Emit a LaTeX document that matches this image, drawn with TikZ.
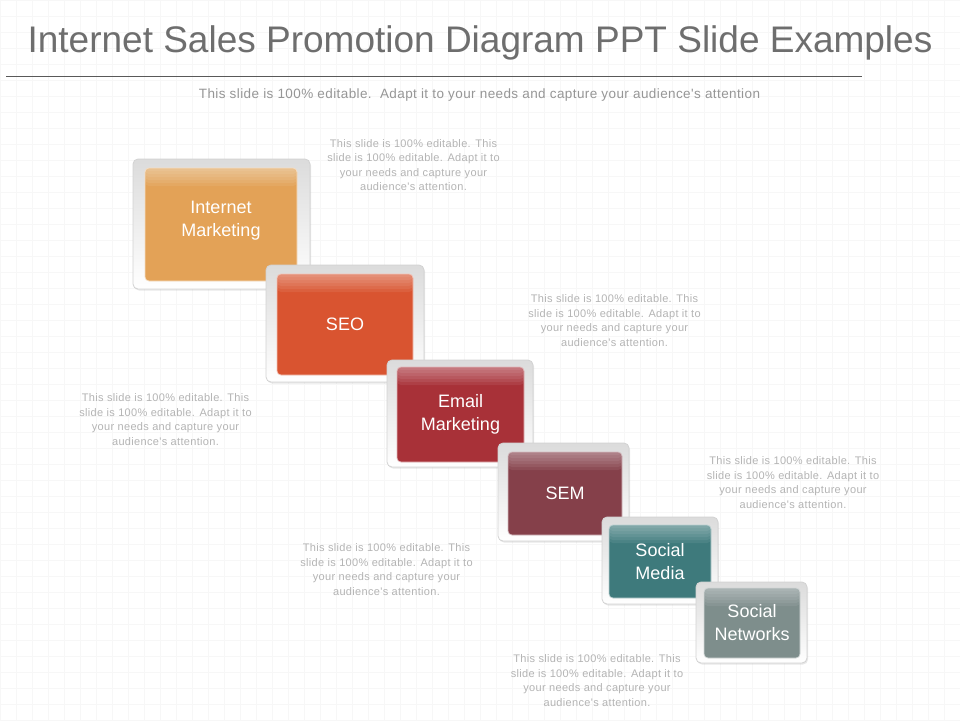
\documentclass[tikz,border=0pt]{standalone}
\usepackage{fontspec}
\setmainfont{Liberation Sans}
\newfontfamily\notefont[LetterSpace=3]{Liberation Sans}
\usetikzlibrary{shadows}

\definecolor{imOrange}{RGB}{227,162,87}
\definecolor{seoRed}{RGB}{217,84,48}
\definecolor{emailRed}{RGB}{168,49,56}
\definecolor{semWine}{RGB}{133,64,74}
\definecolor{smTeal}{RGB}{62,122,124}
\definecolor{snGray}{RGB}{126,142,140}
\definecolor{titleGray}{RGB}{110,110,110}
\definecolor{subGray}{RGB}{150,150,150}
\definecolor{noteGray}{RGB}{180,180,180}

\begin{document}
\begin{tikzpicture}[x=1pt, y=-1pt,
    frame/.style={draw=gray!35, line width=0.8pt, rounded corners=5pt, top color=gray!28, bottom color=white, inner sep=0pt,
        drop shadow={opacity=0.18, shadow xshift=1pt, shadow yshift=-1.5pt}},
    tile/.style={draw=white!65!#1, line width=0.7pt, fill=#1, rounded corners=4pt, inner sep=0pt, text=white,
        font=\fontsize{18}{23}\selectfont, align=center,
        path picture={\foreach \g in {3,6,...,18}
            \fill[white, opacity=0.07] (path picture bounding box.north west) rectangle ([yshift=-\g pt]path picture bounding box.north east);}},
    note/.style={text=noteGray, font=\notefont\fontsize{11}{14.5}\selectfont, align=center}]

        \useasboundingbox (0,0) rectangle (960,720);
        \fill[white] (0,0) rectangle (960,720);
        \draw[gray!6, step=16pt, line width=0.6pt] (0,0) grid (960,720);

        %%%%%%%%%%%%%%%%%%%%%%%%%%%%%%
        \node[font=\fontsize{37}{40}\selectfont, text=titleGray, anchor=base] (title) at (480,52)
        {Internet Sales Promotion Diagram PPT Slide Examples};
        \coordinate (ruleL) at (6,76);
        \coordinate (ruleR) at (862,76);
        \draw[black!65, line width=0.8pt] (ruleL) -- (ruleR);
        \node[font=\notefont\fontsize{13.5}{15}\selectfont, text=subGray, anchor=base] (subtitle) at (479.5,98)
        {This slide is 100\% editable.\ \ Adapt it to your needs and capture your audience's attention};

        %%%%%%%%%%%%%%%%%%%%%%%%%%%%%%
        \node[frame, minimum width=177pt, minimum height=130pt] (imFrame) at (221.5,224) {};
        \node[tile=imOrange, minimum width=152pt, minimum height=113pt, text depth=12pt] (im) at (221,224.5) {Internet\\Marketing};

        \node[frame, minimum width=158pt, minimum height=117pt] (seoFrame) at (345,323.5) {};
        \node[tile=seoRed, minimum width=136pt, minimum height=101pt] (seo) at (345,324.5) {SEO};

        \node[frame, minimum width=146pt, minimum height=107pt] (emailFrame) at (460,413.5) {};
        \node[tile=emailRed, minimum width=127pt, minimum height=95pt] (email) at (460.5,414.5) {Email\\Marketing};

        \node[frame, minimum width=131pt, minimum height=98pt] (semFrame) at (563.5,492) {};
        \node[tile=semWine, minimum width=114pt, minimum height=83pt] (sem) at (565,493.5) {SEM};

        \node[frame, minimum width=116pt, minimum height=87pt] (smFrame) at (660,560.5) {};
        \node[tile=smTeal, minimum width=102pt, minimum height=73pt] (sm) at (660,561.5) {Social\\Media};

        \node[frame, minimum width=111pt, minimum height=81pt] (snFrame) at (751.5,622.5) {};
        \node[tile=snGray, minimum width=96pt, minimum height=70pt] (sn) at (752,623) {Social\\Networks};

        %%%%%%%%%%%%%%%%%%%%%%%%%%%%%%
        \node[note] (noteIm) at (413.5,165) {This slide is 100\% editable. This\\slide is 100\% editable. Adapt it to\\your needs and capture your\\audience's attention.};
        \node[note] (noteSeo) at (614.5,320.5) {This slide is 100\% editable. This\\slide is 100\% editable. Adapt it to\\your needs and capture your\\audience's attention.};
        \node[note] (noteEmail) at (165.5,419.5) {This slide is 100\% editable. This\\slide is 100\% editable. Adapt it to\\your needs and capture your\\audience's attention.};
        \node[note] (noteSem) at (793,482.5) {This slide is 100\% editable. This\\slide is 100\% editable. Adapt it to\\your needs and capture your\\audience's attention.};
        \node[note] (noteSm) at (386.5,569.5) {This slide is 100\% editable. This\\slide is 100\% editable. Adapt it to\\your needs and capture your\\audience's attention.};
        \node[note] (noteSn) at (597,680.5) {This slide is 100\% editable. This\\slide is 100\% editable. Adapt it to\\your needs and capture your\\audience's attention.};
    \end{tikzpicture}
\end{document}
